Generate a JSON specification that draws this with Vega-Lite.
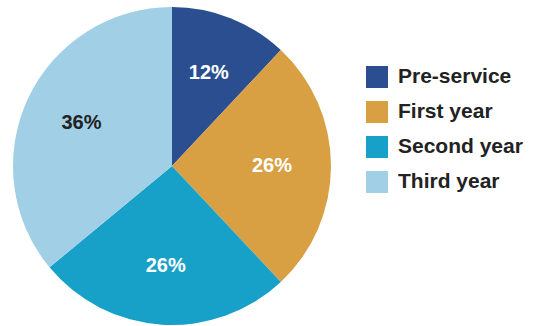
{
  "$schema": "https://vega.github.io/schema/vega-lite/v6.json",
  "width": 344,
  "height": 326,
  "padding": {"left": 0, "top": 3, "right": 194, "bottom": 0},
  "autosize": {"type": "none"},
  "background": "white",
  "data": {"values": [
    {"group": "Pre-service", "pct": 12, "label": "12%", "ord": 1},
    {"group": "First year", "pct": 26, "label": "26%", "ord": 2},
    {"group": "Second year", "pct": 26, "label": "26%", "ord": 3},
    {"group": "Third year", "pct": 36, "label": "36%", "ord": 4}
  ]},
  "encoding": {
    "theta": {"field": "pct", "type": "quantitative", "stack": true},
    "order": {"field": "ord", "type": "quantitative"}
  },
  "layer": [
    {
      "mark": {"type": "arc", "outerRadius": 159},
      "encoding": {
        "color": {
          "field": "group", "type": "nominal",
          "scale": {"domain": ["Pre-service", "First year", "Second year", "Third year"],
                    "range": ["#2a4e8f", "#d9a043", "#17a0c8", "#a0cfe6"]},
          "legend": {
            "title": null, "orient": "none", "legendX": 366, "legendY": 63,
            "symbolType": "square", "symbolSize": 484, "symbolStrokeWidth": 0,
            "labelFont": "Liberation Sans", "labelFontSize": 21, "labelFontWeight": "bold",
            "labelColor": "#222222", "labelOffset": 10, "rowPadding": 13, "labelLimit": 200
          }
        }
      }
    },
    {
      "mark": {"type": "text", "radius": 100, "font": "Liberation Sans", "fontSize": 20, "fontWeight": "bold"},
      "encoding": {
        "text": {"field": "label", "type": "nominal"},
        "color": {"condition": {"test": "datum.group === 'Third year'", "value": "#222222"}, "value": "white"}
      }
    }
  ]
}
